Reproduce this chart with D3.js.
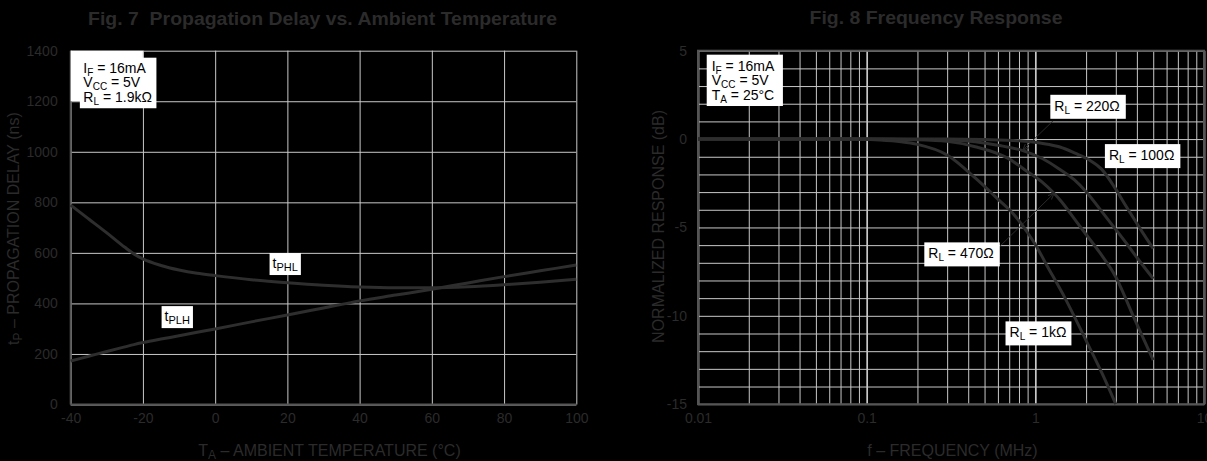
<!DOCTYPE html>
<html><head><meta charset="utf-8">
<script src="https://cdn.jsdelivr.net/npm/d3@7"></script>
<style>
body{margin:0;background:#000;}
svg{display:block;font-family:"Liberation Sans",Arial,Helvetica,sans-serif;}
</style>
</head><body><script>
// ---------- Fig. 7 data ----------
const tempTicks = [-40,-20,0,20,40,60,80,100];
const delayTicks = [0,200,400,600,800,1000,1200,1400];
const temps = [-40,-35,-30,-25,-22.5,-20,-15,-10,-5,0,10,20,30,40,50,60,70,80,90,100];
const tPHL  = [789,734,679,622,596,576,550,532,519,510,494,482,472,465,462,462,466,474,484,496];
const tPLH  = [172,191,210,228,237,245,259,272,286,299,327,354,382,410,433,456,481,506,529,552];

// ---------- Fig. 8 data ----------
const freqDecades = [0.01,0.1,1,10];
const freqTickLabels = ["0.01","0.1","1","10"];
const dbTicks = [5,0,-5,-10,-15];
const freq100 = [0.01,0.1,0.3,0.5,0.8,1.09,1.4,1.72,2.1,2.47,2.96,3.4,3.72,4.3,5];
const db100   = [0,0,0,-0.03,-0.1,-0.24,-0.45,-0.8,-1.2,-1.7,-2.75,-3.7,-4.3,-5.25,-6.2];
const freq220 = [0.01,0.1,0.2,0.3,0.44,0.6,0.86,1.1,1.37,1.7,2.0,2.5,2.96,3.5,4.0,5];
const db220   = [0,0,-0.02,-0.05,-0.15,-0.35,-0.68,-1.1,-1.66,-2.3,-2.98,-4.15,-5.05,-5.95,-6.7,-7.9];
const freq470 = [0.01,0.1,0.2,0.3,0.44,0.69,0.9,1.09,1.29,1.43,1.7,2.0,2.4,3.0,3.8,5];
const db470   = [0,0,-0.04,-0.13,-0.43,-1.09,-1.85,-2.41,-3.07,-3.55,-4.5,-5.4,-6.4,-7.8,-10.0,-12.5];
const freq1k  = [0.01,0.08,0.12,0.16,0.2,0.3,0.44,0.6,0.75,0.9,1.02,1.14,1.5,2.0,2.5,3.0];
const db1k    = [0,0,-0.05,-0.15,-0.3,-0.9,-2.2,-3.4,-4.3,-5.3,-6.1,-6.95,-9.0,-11.4,-13.3,-15];

// ---------- styles ----------
const DIM = "#2b2b2b";
const GRID = "#c8c8c8";
const AXIS = "#555";
const CURVE = "#2e2e2e";

const svg = d3.select("body").append("svg").attr("width",1207).attr("height",461);
svg.append("rect").attr("width",1207).attr("height",461).attr("fill","#000");

const defs = svg.append("defs");
defs.append("marker").attr("id","arr").attr("viewBox","0 0 8 8").attr("refX",7).attr("refY",4)
  .attr("markerWidth",7).attr("markerHeight",7).attr("orient","auto")
  .append("path").attr("d","M0,1 L7,4 L0,7").attr("fill","none").attr("stroke","#2a2a2a").attr("stroke-width",1.2);

// rich text with subscripts: parts = [[text, isSub], ...]
function rich(g, x, y, parts, size, subSize, attrs) {
  const t = g.append("text").attr("x",x).attr("y",y).attr("font-size",size);
  if (attrs) Object.entries(attrs).forEach(([k,v]) => t.attr(k,v));
  let shifted = 0;
  parts.forEach(([s, sub]) => {
    const ts = t.append("tspan").text(s);
    if (sub) { ts.attr("font-size", subSize).attr("dy", 3 - shifted); shifted = 3; }
    else if (shifted) { ts.attr("dy", -shifted); shifted = 0; }
  });
  return t;
}
function boxed(g, x, y, parts, size, subSize, pad) {
  const grp = g.append("g");
  const t = rich(grp, x, y, parts, size, subSize, {fill:"#000"});
  const b = t.node().getBBox();
  grp.insert("rect","text").attr("x", b.x - pad[3]).attr("y", b.y - pad[0])
    .attr("width", b.width + pad[1] + pad[3]).attr("height", b.height + pad[0] + pad[2]).attr("fill","#fff");
  return grp;
}
const fmt = d => String(d);

// ================= Fig. 7 =================
const xL = d3.scaleLinear().domain([-40,100]).range([70.7,576.3]);
const yL = d3.scaleLinear().domain([0,1400]).range([404.5,50.7]);
const gL = svg.append("g");

const axYL = gL.append("g").attr("transform",`translate(${xL(-40)},0)`)
  .call(d3.axisLeft(yL).tickValues(delayTicks).tickSize(-(xL(100)-xL(-40))).tickPadding(13).tickFormat(fmt));
const axXL = gL.append("g").attr("transform",`translate(0,${yL(0)})`)
  .call(d3.axisBottom(xL).tickValues(tempTicks).tickSize(-(yL(0)-yL(1400))).tickPadding(9).tickFormat(fmt));
[axYL, axXL].forEach(a => {
  a.select(".domain").remove();
  a.selectAll("line").attr("stroke",GRID).attr("stroke-width",1);
  a.selectAll("text").attr("fill",DIM).attr("font-size",14).attr("font-family",null);
});
gL.append("line").attr("x1",xL(-40)).attr("x2",xL(-40)).attr("y1",yL(1400)).attr("y2",yL(0)).attr("stroke",AXIS).attr("stroke-width",2);
gL.append("line").attr("x1",xL(-40)).attr("x2",xL(100)).attr("y1",yL(0)).attr("y2",yL(0)).attr("stroke",AXIS).attr("stroke-width",2);

const lineL = d3.line().x(d=>xL(d[0])).y(d=>yL(d[1])).curve(d3.curveMonotoneX);
gL.append("path").attr("d", lineL(temps.map((t,i)=>[t,tPHL[i]]))).attr("fill","none").attr("stroke",CURVE).attr("stroke-width",3);
gL.append("path").attr("d", lineL(temps.map((t,i)=>[t,tPLH[i]]))).attr("fill","none").attr("stroke",CURVE).attr("stroke-width",3);

// legend (white grid cell + box)
gL.append("rect").attr("x",xL(-40)).attr("y",yL(1400)).attr("width",xL(-20)-xL(-40)).attr("height",yL(1200)-yL(1400)).attr("fill","#fff");
(function(){
  const grp = gL.append("g");
  const lx = xL(-36.5);
  const l1 = rich(grp, lx, yL(1313), [["I"],["F",true],[" = 16mA"]], 14, 10, {fill:"#000"});
  const l2 = rich(grp, lx, yL(1256), [["V"],["CC",true],[" = 5V"]], 14, 10, {fill:"#000"});
  const l3 = rich(grp, lx, yL(1198), [["R"],["L",true],[" = 1.9k\u03a9"]], 14, 10, {fill:"#000"});
  const bb = [l1,l2,l3].map(t=>t.node().getBBox());
  const x0 = d3.min(bb,b=>b.x)-3.5, x1 = d3.max(bb,b=>b.x+b.width)+4.5;
  const y0 = d3.min(bb,b=>b.y)-2, y1 = d3.max(bb,b=>b.y+b.height)+1.5;
  grp.insert("rect","text").attr("x",x0).attr("y",y0).attr("width",x1-x0).attr("height",y1-y0).attr("fill","#fff");
})();

boxed(gL, xL(15.9), yL(540), [["t"],["PHL",true]], 14, 11, [2,3,2,3]);
boxed(gL, xL(-14), yL(330), [["t"],["PLH",true]], 14, 11, [2,3,2,3]);

// titles
gL.append("text").attr("x",322.5).attr("y",25).attr("text-anchor","middle").attr("font-size",18.5)
  .attr("font-weight","bold").attr("fill",DIM).attr("textLength",469).attr("lengthAdjust","spacingAndGlyphs")
  .text("Fig. 7\u00a0 Propagation Delay vs. Ambient Temperature");
rich(gL, 329.5, 455.5, [["T"],["A",true],[" \u2013 AMBIENT TEMPERATURE (\u00b0C)"]], 16, 12, {fill:DIM,"text-anchor":"middle"});
rich(gL, 0, 0, [["t"],["P",true],[" \u2013 PROPAGATION DELAY (ns)"]], 16, 12,
  {fill:DIM,"text-anchor":"middle",transform:`translate(18.5,${(yL(0)+yL(1400))/2+1}) rotate(-90)`});

// ================= Fig. 8 =================
const xR = d3.scaleLog().domain([0.01,10]).range([698,1204]);
const yR = d3.scaleLinear().domain([-15,5]).range([404.2,50.7]);
const gR = svg.append("g");

const minorF = [];
freqDecades.slice(0,3).forEach(dec => { for (let k=1;k<=9;k++) minorF.push(+(k*dec).toPrecision(3)); });
minorF.push(10);
const dbAll = d3.range(-15,6,1);

const axXR = gR.append("g").attr("transform",`translate(0,${yR(-15)})`)
  .call(d3.axisBottom(xR).tickValues(minorF).tickSize(-(yR(-15)-yR(5))).tickPadding(9)
    .tickFormat(d => { const i = freqDecades.indexOf(d); return i>=0 ? freqTickLabels[i] : ""; }));
const axYR = gR.append("g").attr("transform",`translate(${xR(0.01)},0)`)
  .call(d3.axisLeft(yR).tickValues(dbAll).tickSize(-(xR(10)-xR(0.01))).tickPadding(11)
    .tickFormat(d => dbTicks.includes(d) ? String(d) : ""));
[axXR, axYR].forEach(a => {
  a.select(".domain").remove();
  a.selectAll("line").attr("stroke",GRID).attr("stroke-width",1);
  a.selectAll("text").attr("fill",DIM).attr("font-size",14).attr("font-family",null);
});
axXR.selectAll(".tick line").filter(d => freqDecades.includes(d)).attr("stroke-width",1.7);
gR.append("rect").attr("x",xR(0.01)).attr("y",yR(5)).attr("width",xR(10)-xR(0.01)).attr("height",yR(-15)-yR(5))
  .attr("fill","none").attr("stroke",AXIS).attr("stroke-width",2);

const lineR = d3.line().x(d=>xR(d[0])).y(d=>yR(d[1])).curve(d3.curveMonotoneX);
[[freq100,db100],[freq220,db220],[freq470,db470],[freq1k,db1k]].forEach(([f,v]) => {
  gR.append("path").attr("d", lineR(f.map((x,i)=>[x,v[i]]))).attr("fill","none").attr("stroke",CURVE).attr("stroke-width",3);
});

// leaders
gR.append("line").attr("x1",xR(1.27)).attr("y1",yR(1.02)).attr("x2",xR(0.843)).attr("y2",yR(-0.62))
  .attr("stroke","#2a2a2a").attr("stroke-width",1).attr("marker-end","url(#arr)");
gR.append("line").attr("x1",xR(0.617)).attr("y1",yR(-6.06)).attr("x2",xR(1.29)).attr("y2",yR(-3.07))
  .attr("stroke","#2a2a2a").attr("stroke-width",1).attr("marker-end","url(#arr)");

// legend
(function(){
  const grp = gR.append("g");
  const lx = xR(0.01206);
  const l1 = rich(grp, lx, yR(3.87), [["I"],["F",true],[" = 16mA"]], 14, 10, {fill:"#000"});
  const l2 = rich(grp, lx, yR(3.06), [["V"],["CC",true],[" = 5V"]], 14, 10, {fill:"#000"});
  const l3 = rich(grp, lx, yR(2.21), [["T"],["A",true],[" = 25\u00b0C"]], 14, 10, {fill:"#000"});
  const bb = [l1,l2,l3].map(t=>t.node().getBBox());
  const x0 = d3.min(bb,b=>b.x)-5, x1 = d3.max(bb,b=>b.x+b.width)+8;
  const y0 = d3.min(bb,b=>b.y)-3, y1 = d3.max(bb,b=>b.y+b.height)+1;
  grp.insert("rect","text").attr("x",x0).attr("y",y0).attr("width",x1-x0).attr("height",y1-y0).attr("fill","#fff");
})();

boxed(gR, xR(1.296), yR(1.6),  [["R"],["L",true],[" = 220\u03a9"]], 14, 10, [3,6,3,4]);
boxed(gR, xR(2.73),  yR(-1.19),[["R"],["L",true],[" = 100\u03a9"]], 14, 10, [3,6,3,4]);
boxed(gR, xR(0.232), yR(-6.75),[["R"],["L",true],[" = 470\u03a9"]], 14, 10, [3,6,3,4]);
boxed(gR, xR(0.703), yR(-11.22),[["R"],["L",true],[" = 1k\u03a9"]], 14, 10, [3,5,3,4]);

gR.append("text").attr("x",936).attr("y",24).attr("text-anchor","middle").attr("font-size",18.5)
  .attr("font-weight","bold").attr("fill",DIM).attr("textLength",253).attr("lengthAdjust","spacingAndGlyphs")
  .text("Fig. 8 Frequency Response");
gR.append("text").attr("x",952.5).attr("y",455.5).attr("text-anchor","middle").attr("font-size",16).attr("fill",DIM)
  .text("f \u2013 FREQUENCY (MHz)");
gR.append("text").attr("transform",`translate(664,${(yR(-15)+yR(5))/2-1}) rotate(-90)`).attr("text-anchor","middle")
  .attr("font-size",16).attr("fill",DIM).text("NORMALIZED RESPONSE (dB)");
</script></body></html>
